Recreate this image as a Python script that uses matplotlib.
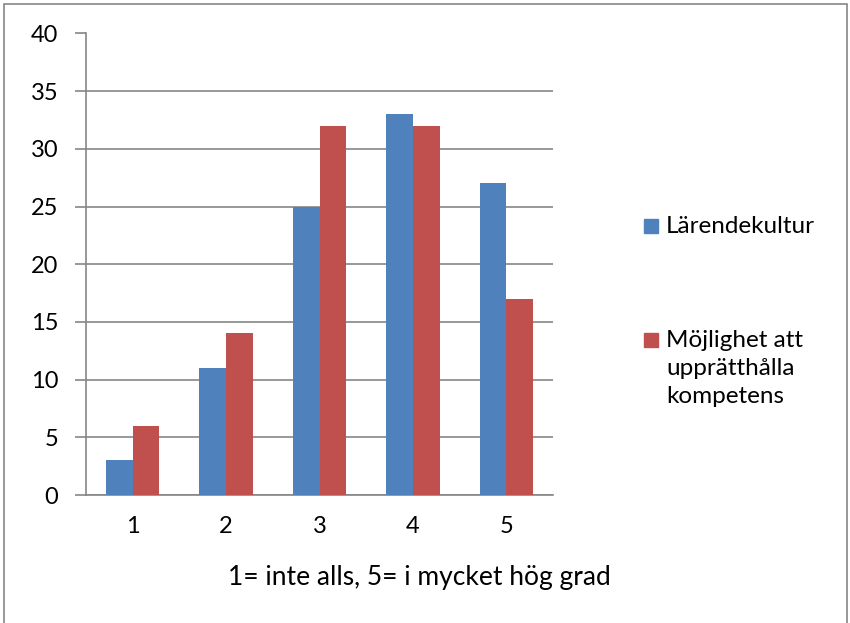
import numpy as np
import matplotlib.pyplot as plt
from matplotlib.patches import Rectangle

plt.rcParams['font.family'] = ['Lato', 'DejaVu Sans']

kategorier = ['1', '2', '3', '4', '5']
larendekultur = [3, 11, 25, 33, 27]
mojlighet = [6, 14, 32, 32, 17]
serier = ['Lärendekultur', 'Möjlighet att\nupprätthålla\nkompetens']
y_ticks = [0, 5, 10, 15, 20, 25, 30, 35, 40]

fig = plt.figure(figsize=(8.5, 6.23), dpi=100)
ax = fig.add_axes([86/850, 1 - 495/623, (553-86)/850, (495-33.5)/623])

x = np.arange(len(kategorier))
w = 0.286
ax.bar(x - w/2, larendekultur, w, color='#4F81BD', label=serier[0], zorder=3)
ax.bar(x + w/2, mojlighet, w, color='#C0504D', label=serier[1], zorder=3)

ax.set_xlim(-0.5, len(kategorier) - 0.5)
ax.set_ylim(0, 40)
ax.set_yticks(y_ticks)
ax.set_xticks(x)
ax.set_xticklabels(kategorier)
ax.yaxis.grid(True, color='#868686', linewidth=1.2, zorder=0)
ax.set_axisbelow(True)

for s in ['top', 'right']:
    ax.spines[s].set_visible(False)
for s in ['left', 'bottom']:
    ax.spines[s].set_color('#868686')
    ax.spines[s].set_linewidth(1.2)

ax.tick_params(axis='y', length=8, width=1.2, color='#868686', pad=12, labelsize=17)
ax.tick_params(axis='x', length=0, pad=15, labelsize=17)

fig.text(419/850, 1 - 577/623, '1= inte alls, 5= i mycket hög grad',
         ha='center', va='center', fontsize=19)

# legend drawn by hand so squares and line spacing sit like the chart
for namn, farg, yc in [(serier[0], '#4F81BD', 226), (serier[1], '#C0504D', 340)]:
    fig.patches.append(Rectangle((644/850, 1 - (yc + 7)/623), 14/850, 14/623,
                                 transform=fig.transFigure, color=farg))
    fig.text(666/850, 1 - (yc - 10)/623, namn, ha='left', va='top',
             fontsize=17.5, linespacing=1.42)

# thin frame round the chart
fig.patches.append(Rectangle((4/850, -0.01), 843/850, 1 - 4/623 + 0.01,
                             transform=fig.transFigure, fill=False,
                             edgecolor='#868686', linewidth=1.2))

fig.savefig('out.png', dpi=100)
